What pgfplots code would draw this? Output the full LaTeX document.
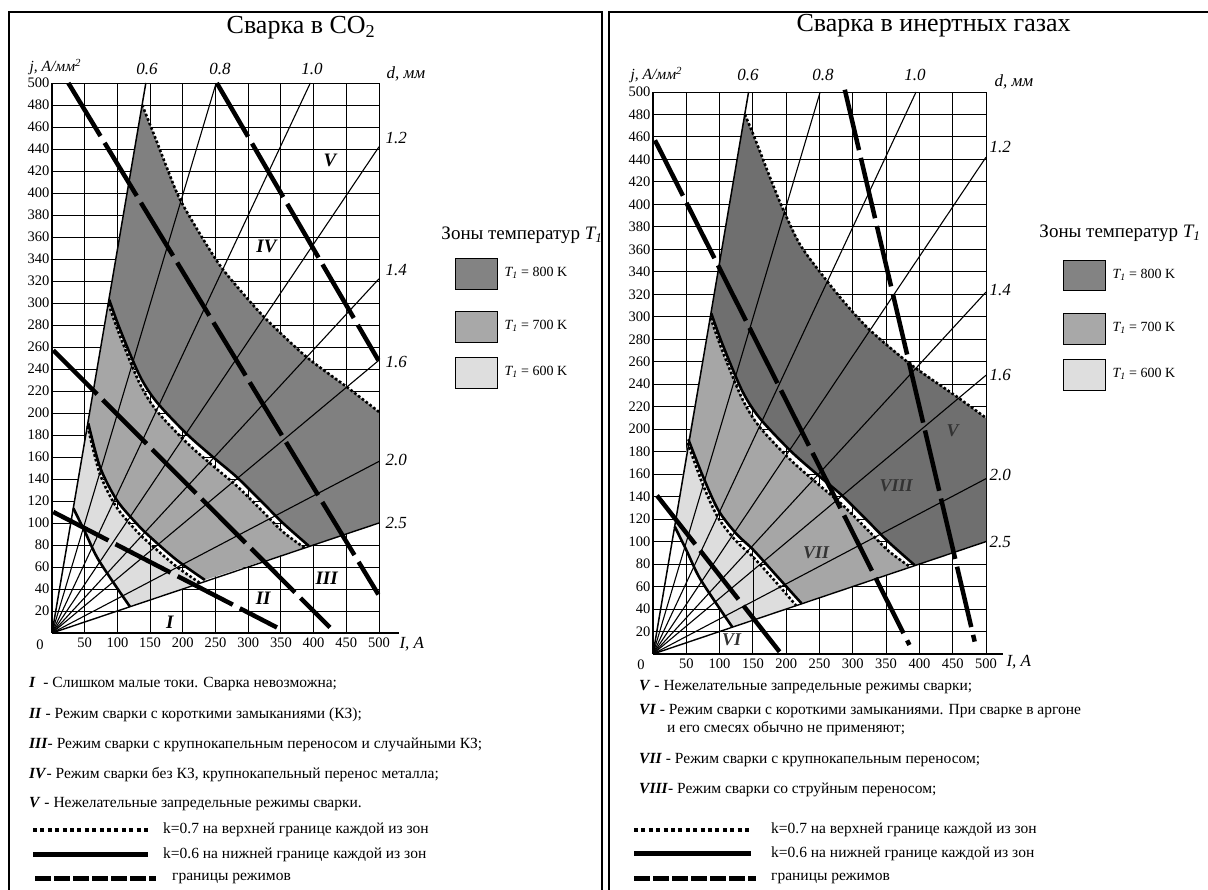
\documentclass[border=0pt]{standalone}
\usepackage{pgfplots}
\pgfplotsset{compat=1.18}
\usepackage{pgfplotstable}
\usepackage{fontspec}
\setmainfont{Liberation Serif}
\definecolor{darkL}{HTML}{808080}
\definecolor{darkR}{HTML}{6F6F6F}
\definecolor{medZ}{HTML}{A6A6A6}
\definecolor{lightZ}{HTML}{DDDDDD}
\definecolor{legD}{HTML}{838383}
\definecolor{legM}{HTML}{A8A8A8}
\definecolor{legL}{HTML}{DEDEDE}
\newcommand\fs[1]{\fontsize{#1}{#1}\selectfont}
\pgfplotsset{
 weld/.style={
  scale only axis, anchor=south west, clip=false,
  xmin=0, xmax=500, ymin=0, ymax=500,
  xtick={50,100,...,500}, ytick={20,40,...,500},
  grid=major, grid style={black, line width=0.9pt},
  major tick length=0pt,
  axis line style={draw=none},
  /pgf/number format/assume math mode=true,
  /pgf/number format/1000 sep={},
  ticklabel style={font=\fs{14.5}},
  yticklabel style={xshift=1pt},
  xticklabel style={yshift=-1pt},
 },
 ray/.style={black, line width=1.1pt},
 kseven/.style={black, line width=2.6pt, dash pattern=on 2.6pt off 2.2pt, smooth},
 ksix/.style={black, line width=2.6pt, smooth},
 regime/.style={black, line width=4.5pt, dash pattern=on 62pt off 8pt},
}
\tikzset{
 zlab/.style={font=\fs{19}\bfseries\itshape},
 rlab/.style={font=\fs{18}\bfseries\itshape, text=black!80},
}
% zone boundaries (I, j)
\pgfplotstableread{
x y
32.6 113.4
50.4 92
68.3 69.4
91.2 48.2
119.2 23.9
}\LA
\pgfplotstableread{
x y
54.5 188
73 145
98 115
128 93.5
149 81.5
189 61
226 45.5
}\LBone
\pgfplotstableread{
x y
55.5 190.6
73.3 151
98.8 121
129 99.7
149.7 87.5
190.5 66.4
233.7 48.2
}\LBtwo
\pgfplotstableread{
x y
86.5 299
104 270
134 227
160 202
206 173
246 152
282 134
318 113
353 92
386 77.5
}\LCone
\pgfplotstableread{
x y
87.5 303
104 276
134 234
160 210
206 181
246 160
282 142
318 121
353 100
393 79
}\LCtwo
\pgfplotstableread{
x y
138 480
150 462
160 447
175 424
195 395
226 363
257 334
290 310
328 285
389 251
450 224
500 201
}\LD
\pgfplotstableread{
x y
52 188
74 152
97 122
124 101
149 87
183 65
215 43
}\RBone
\pgfplotstableread{
x y
53 191
75 158
98 128
125 107
150 93
185 70
223 45
}\RBtwo
\pgfplotstableread{
x y
138 480
150 463
160 448
175 425
195 396
221 364
257 335
290 311
326 288
386 258
456 229
500 210
}\RD

\begin{document}
\begin{tikzpicture}
\begin{scope}[x=1pt,y=1pt]
\useasboundingbox (0,0) rectangle (1208,890);
\draw[line width=2pt] (9,0) -- (9,878) -- (602,878) -- (602,0);
\draw[line width=2pt] (609,0) -- (609,878) -- (1208,878);
\end{scope}

% ================= LEFT =================
\begin{axis}[weld, at={(52pt,257pt)}, width=327pt, height=550pt]
\addplot[fill=lightZ, draw=none] coordinates {(32.6,113.4)(50.4,92)(68.3,69.4)(91.2,48.2)(119.2,23.9)(226,45.5)(189,61)(149,81.5)(128,93.5)(98,115)(73,145)(54.5,188)} --cycle;
\addplot[fill=medZ, draw=none] coordinates {(55.5,190.6)(73.3,151)(98.8,121)(129,99.7)(149.7,87.5)(190.5,66.4)(233.7,48.2)(386,77.5)(353,92)(318,113)(282,134)(246,152)(206,173)(160,202)(134,227)(104,270)(86.5,299)} --cycle;
\addplot[fill=darkL, draw=none] coordinates {(87.5,303)(104,276)(134,234)(160,210)(206,181)(246,160)(282,142)(318,121)(353,100)(393,79)(500,100)(500,201)(450,224)(389,251)(328,285)(290,310)(257,334)(226,363)(195,395)(175,424)(160,447)(150,462)(138,480)} --cycle;
\addplot[black, line width=0.7pt] coordinates {(150,30.6) (150,81.5)};
\addplot[black, line width=1.5pt] coordinates {(0,0) (143.5,500)};
\addplot[ray] coordinates {(0,0) (251,500)};
\addplot[ray] coordinates {(0,0) (395,500)};
\addplot[ray] coordinates {(0,0) (500,442)};
\addplot[ray] coordinates {(0,0) (500,322)};
\addplot[ray] coordinates {(0,0) (500,248)};
\addplot[ray] coordinates {(0,0) (500,156)};
\addplot[black, line width=1.4pt] coordinates {(0,0) (500,100)};
\addplot[ksix] table {\LA};
\addplot[kseven] table {\LBone};
\addplot[ksix] table {\LBtwo};
\addplot[kseven] table {\LCone};
\addplot[ksix] table {\LCtwo};
\addplot[kseven] table {\LD};
\addplot[regime] coordinates {(2,110) (344,5)};
\addplot[regime] coordinates {(2,257) (425,5)};
\addplot[regime] coordinates {(25,500) (499,35)};
\addplot[regime] coordinates {(252,500) (499,248)};
\draw[line width=2.6pt] (axis cs:0,0) -- (axis cs:530,0);
\draw[line width=1.4pt] (axis cs:0,0) -- (axis cs:0,500);
\node[zlab] at (axis cs:180,10) {I};
\node[zlab] at (axis cs:323,31.5) {II};
\node[zlab] at (axis cs:420,50) {III};
\node[zlab] at (axis cs:328,351) {IV};
\node[zlab] at (axis cs:425,430) {V};
\end{axis}

% ================= RIGHT =================
\begin{axis}[weld, at={(653pt,236pt)}, width=333pt, height=562pt]
\addplot[fill=lightZ, draw=none] coordinates {(32.6,113.4)(50.4,92)(68.3,69.4)(91.2,48.2)(119.2,23.9)(215,43)(183,65)(149,87)(124,101)(97,122)(74,152)(52,188)} --cycle;
\addplot[fill=medZ, draw=none] coordinates {(53,191)(75,158)(98,128)(125,107)(150,93)(185,70)(223,45)(386,77.5)(353,92)(318,113)(282,134)(246,152)(206,173)(160,202)(134,227)(104,270)(86.5,299)} --cycle;
\addplot[fill=darkR, draw=none] coordinates {(87.5,303)(104,276)(134,234)(160,210)(206,181)(246,160)(282,142)(318,121)(353,100)(393,79)(500,100)(500,210)(456,229)(386,258)(326,288)(290,311)(257,335)(221,364)(195,396)(175,425)(160,448)(150,463)(138,480)} --cycle;
\addplot[black, line width=0.7pt] coordinates {(150,30.6) (150,87)};
\addplot[black, line width=1.5pt] coordinates {(0,0) (143.5,500)};
\addplot[ray] coordinates {(0,0) (251,500)};
\addplot[ray] coordinates {(0,0) (395,500)};
\addplot[ray] coordinates {(0,0) (500,442)};
\addplot[ray] coordinates {(0,0) (500,322)};
\addplot[ray] coordinates {(0,0) (500,248)};
\addplot[ray] coordinates {(0,0) (500,156)};
\addplot[black, line width=1.4pt] coordinates {(0,0) (500,100)};
\addplot[ksix] table {\LA};
\addplot[kseven] table {\RBone};
\addplot[ksix] table {\RBtwo};
\addplot[kseven] table {\LCone};
\addplot[ksix] table {\LCtwo};
\addplot[kseven] table {\RD};
\addplot[regime] coordinates {(3,457) (385,8)};
\addplot[regime] coordinates {(288,502) (483,11)};
\addplot[regime] coordinates {(6,141) (190,2)};
\draw[line width=2.6pt] (axis cs:0,0) -- (axis cs:525,0);
\draw[line width=1.4pt] (axis cs:0,0) -- (axis cs:0,500);
\node[rlab] at (axis cs:450,199) {V};
\node[rlab] at (axis cs:365,150) {VIII};
\node[rlab] at (axis cs:245,90) {VII};
\node[rlab] at (axis cs:118,12.5) {VI};
\end{axis}

\begin{scope}[x=1pt,y=1pt]
\node[font=\fs{26}] at (301,862) {Сварка в CO\textsubscript{2}};
\node[anchor=west, font=\fs{15.5}\itshape] at (26,823) {j, А/мм\textsuperscript{2}};
\begin{scope}[font=\fs{17}\itshape]
\node at (147,821) {0.6};
\node at (220,821) {0.8};
\node at (312,821) {1.0};
\node[anchor=west] at (383,816) {d, мм};
\node[anchor=west] at (382,752) {1.2};
\node[anchor=west] at (382,620) {1.4};
\node[anchor=west] at (382,528) {1.6};
\node[anchor=west] at (382,430) {2.0};
\node[anchor=west] at (382,367) {2.5};
\node[anchor=west] at (396,246) {I, А};
\end{scope}
\node[font=\fs{14.5}] at (40,245) {0};

\node[font=\fs{19}] at (522,655) {Зоны температур \textit{T\textsubscript{1}}};
\draw[fill=legD, line width=0.8pt] (455,601) rectangle (497,632);
\draw[fill=legM, line width=0.8pt] (455,548) rectangle (497,579);
\draw[fill=legL, line width=0.8pt] (455,502) rectangle (497,533);
\begin{scope}[font=\fs{14}, anchor=west]
\node at (501,617) {\textit{T\textsubscript{1}} = 800 K};
\node at (501,564) {\textit{T\textsubscript{1}} = 700 K};
\node at (501,518) {\textit{T\textsubscript{1}} = 600 K};
\end{scope}

\begin{scope}[font=\fs{15.5}, anchor=west, inner sep=0pt]
\node at (29,206) {\textbf{\textit{I}}\ \ - Слишком малые токи. Сварка невозможна;};
\node at (29,175) {\textbf{\textit{II}} - Режим сварки с короткими замыканиями (КЗ);};
\node at (29,145) {\textbf{\textit{III}}- Режим сварки с крупнокапельным переносом и случайными КЗ;};
\node at (29,115) {\textbf{\textit{IV}}- Режим сварки без КЗ, крупнокапельный перенос металла;};
\node at (29,86) {\textbf{\textit{V}} - Нежелательные запредельные режимы сварки.};
\node at (163,60) {k=0.7 на верхней границе каждой из зон};
\node at (163,35) {k=0.6 на нижней границе каждой из зон};
\node at (172,11) {границы режимов};
\end{scope}
\draw[line width=4pt, dash pattern=on 4pt off 3.4pt] (33,60) -- (148,60);
\draw[line width=5pt] (33,35) -- (148,35);
\draw[line width=5pt, dash pattern=on 16pt off 3pt] (35,11) -- (156,11);

\node[font=\fs{26}, anchor=west] at (793,864) {Сварка в инертных газах};
\node[anchor=west, font=\fs{15.5}\itshape] at (627,815) {j, А/мм\textsuperscript{2}};
\begin{scope}[font=\fs{17}\itshape]
\node at (748,815) {0.6};
\node at (823,815) {0.8};
\node at (915,815) {1.0};
\node[anchor=west] at (991,808) {d, мм};
\node[anchor=west] at (986,743) {1.2};
\node[anchor=west] at (986,600) {1.4};
\node[anchor=west] at (986,515) {1.6};
\node[anchor=west] at (986,415) {2.0};
\node[anchor=west] at (986,348) {2.5};
\node[anchor=west] at (1003,228) {I, А};
\end{scope}
\node[font=\fs{14.5}] at (641,225) {0};

\node[font=\fs{19}] at (1120,657) {Зоны температур \textit{T\textsubscript{1}}};
\draw[fill=legD, line width=0.8pt] (1063,600) rectangle (1105,630);
\draw[fill=legM, line width=0.8pt] (1063,546) rectangle (1105,577);
\draw[fill=legL, line width=0.8pt] (1063,500) rectangle (1105,531);
\begin{scope}[font=\fs{14}, anchor=west]
\node at (1109,615) {\textit{T\textsubscript{1}} = 800 K};
\node at (1109,562) {\textit{T\textsubscript{1}} = 700 K};
\node at (1109,516) {\textit{T\textsubscript{1}} = 600 K};
\end{scope}

\begin{scope}[font=\fs{15.5}, anchor=west, inner sep=0pt]
\node at (639,203) {\textbf{\textit{V}} - Нежелательные запредельные режимы сварки;};
\node at (639,179) {\textbf{\textit{VI}} - Режим сварки с короткими замыканиями. При сварке в аргоне};
\node at (667,161) {и его смесях обычно не применяют;};
\node at (639,130) {\textbf{\textit{VII}} - Режим сварки с крупнокапельным переносом;};
\node at (639,100) {\textbf{\textit{VIII}}- Режим сварки со струйным переносом;};
\node at (771,60) {k=0.7 на верхней границе каждой из зон};
\node at (771,36) {k=0.6 на нижней границе каждой из зон};
\node at (771,11) {границы режимов};
\end{scope}
\draw[line width=4pt, dash pattern=on 4pt off 3.4pt] (634,60) -- (751,60);
\draw[line width=5pt] (634,36) -- (751,36);
\draw[line width=5pt, dash pattern=on 16pt off 3pt] (634,11) -- (756,11);
\end{scope}
\end{tikzpicture}
\end{document}
